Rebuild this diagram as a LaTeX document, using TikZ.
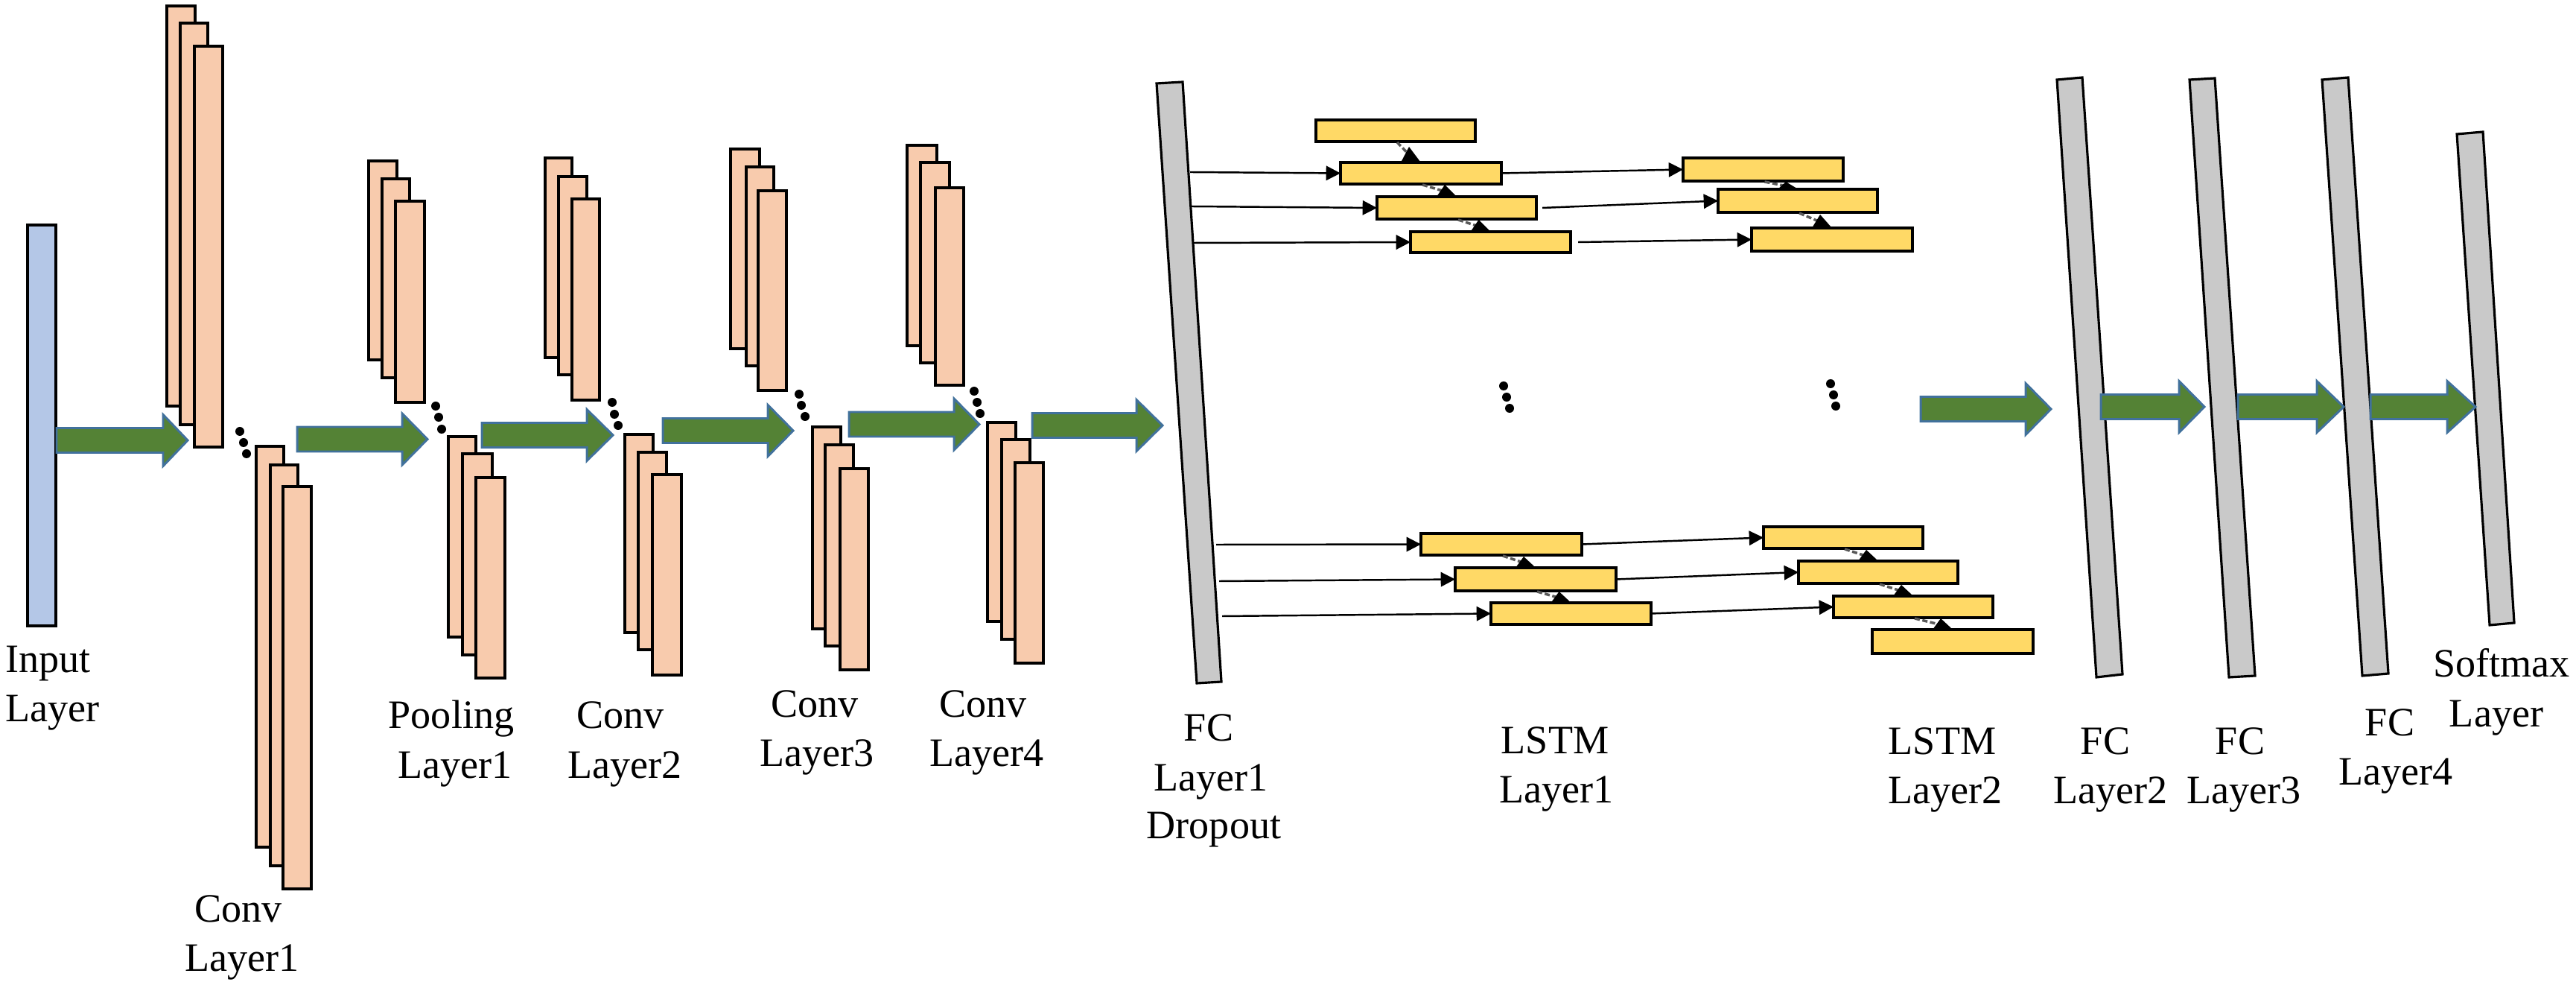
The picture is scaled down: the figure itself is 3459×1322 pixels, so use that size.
\documentclass[tikz,border=0pt]{standalone}
\usepackage{fontspec}
\setmainfont{Liberation Serif}
\newfontfamily\lblfont{Liberation Serif}
\usetikzlibrary{calc,arrows.meta}
\definecolor{convfill}{HTML}{F8CBAD}
\definecolor{inputfill}{HTML}{B4C7E7}
\definecolor{barfill}{HTML}{C9C9C9}
\definecolor{lstmfill}{HTML}{FFD966}
\definecolor{arrowgreen}{HTML}{548235}
\definecolor{arrowblue}{HTML}{41719C}
\newcommand\rectbox[6]{\node[#2, minimum width={(#5-#3)*0.28453pt}, minimum height={(#6-#4)*0.28453pt}] (#1) at ({(#3+#5)/2},{(#4+#6)/2}) {};}
\newcommand\garrow[4]{\draw[greenarrow] (#1,#4-16.5) -- (#2,#4-16.5) -- (#2,#4-34.5) -- (#3,#4) -- (#2,#4+34.5) -- (#2,#4+16.5) -- (#1,#4+16.5) -- cycle;}
\newcommand\lstmlink[3]{%
  \draw[linkdash] ($(#1.south)+(2,1)$) -- ($(#2.north)+(-14,-#3*0.4)$);
  \fill[black] ($(#2.north)+(-27,0)$) -- ($(#2.north)+(-1,-1)$) -- ($(#2.north)+(-16,-#3)$) -- cycle;}
\newcommand\dotcol[6]{\fill (#1,#2) circle[radius=6]; \fill (#3,#4) circle[radius=6]; \fill (#5,#6) circle[radius=6];}
\begin{document}
\begin{tikzpicture}[x=0.1mm,y=-0.1mm,
  convbox/.style={draw=black, fill=convfill, line width=1pt, inner sep=0pt, outer sep=0pt},
  inputbox/.style={draw=black, fill=inputfill, line width=1pt, inner sep=0pt, outer sep=0pt},
  lstmbox/.style={draw=black, fill=lstmfill, line width=0.9pt, inner sep=0pt, outer sep=0pt},
  fcbar/.style={draw=black, fill=barfill, line width=0.9pt, line join=miter},
  greenarrow/.style={fill=arrowgreen, draw=arrowblue, line width=0.85pt, line join=miter},
  thinarrow/.style={draw=black, line width=0.7pt, -{Triangle[length=5.5pt,width=5.5pt]}},
  linkdash/.style={draw=black!65, line width=1pt, dash pattern=on 2pt off 1pt},
  lbl/.style={font=\lblfont\fontsize{15.4}{18.8}\selectfont, inner sep=0pt, anchor=base}]
\useasboundingbox (0,0) rectangle (3459,1322);

% input layer
\rectbox{inp}{inputbox}{37}{302}{75}{840}

% conv layer 1
\rectbox{c1a1}{convbox}{224}{8}{262}{545}
\rectbox{c1a2}{convbox}{242}{31}{279}{570}
\rectbox{c1a3}{convbox}{261}{62}{299}{600}
\rectbox{c1b1}{convbox}{344}{599}{381}{1137}
\rectbox{c1b2}{convbox}{363}{624}{400}{1162}
\rectbox{c1b3}{convbox}{380}{653}{418}{1193}
% pooling layer 1
\rectbox{p1a1}{convbox}{495}{216}{533}{483}
\rectbox{p1a2}{convbox}{513}{240}{550}{507}
\rectbox{p1a3}{convbox}{531}{270}{570}{540}
\rectbox{p1b1}{convbox}{602}{586}{639}{855}
\rectbox{p1b2}{convbox}{621}{609}{661}{879}
\rectbox{p1b3}{convbox}{639}{641}{678}{910}
% conv layer 2
\rectbox{c2a1}{convbox}{732}{212}{768}{480}
\rectbox{c2a2}{convbox}{750}{237}{788}{503}
\rectbox{c2a3}{convbox}{768}{267}{805}{537}
\rectbox{c2b1}{convbox}{839}{583}{877}{849}
\rectbox{c2b2}{convbox}{857}{607}{895}{872}
\rectbox{c2b3}{convbox}{876}{637}{915}{906}
% conv layer 3
\rectbox{c3a1}{convbox}{981}{200}{1020}{468}
\rectbox{c3a2}{convbox}{1002}{224}{1039}{491}
\rectbox{c3a3}{convbox}{1018}{256}{1056}{524}
\rectbox{c3b1}{convbox}{1091}{573}{1129}{844}
\rectbox{c3b2}{convbox}{1108}{597}{1146}{867}
\rectbox{c3b3}{convbox}{1128}{629}{1166}{899}
% conv layer 4
\rectbox{c4a1}{convbox}{1218}{195}{1258}{464}
\rectbox{c4a2}{convbox}{1236}{218}{1275}{487}
\rectbox{c4a3}{convbox}{1256}{252}{1294}{517}
\rectbox{c4b1}{convbox}{1326}{567}{1364}{834}
\rectbox{c4b2}{convbox}{1345}{590}{1383}{858}
\rectbox{c4b3}{convbox}{1363}{621}{1401}{890}

% dots between feature-map stacks
\dotcol{322}{579}{327}{594}{331}{609}
\dotcol{585}{545}{589}{560}{593}{576}
\dotcol{822}{540}{825}{556}{830}{571}
\dotcol{1073}{529}{1076}{544}{1081}{559}
\dotcol{1308}{525}{1312}{540}{1316}{555}

% fully connected bars
\draw[fcbar] (1553,112) -- (1588,110) -- (1640,915) -- (1607,917) -- cycle;
\draw[fcbar] (2762,107) -- (2796,104) -- (2850,905) -- (2815,909) -- cycle;
\draw[fcbar] (2940,107) -- (2974,105) -- (3028,907) -- (2993,909) -- cycle;
\draw[fcbar] (3118,107) -- (3153,104) -- (3207,904) -- (3172,907) -- cycle;
\draw[fcbar] (3299,180) -- (3334,177) -- (3376,836) -- (3343,839) -- cycle;

% green arrows
\garrow{76}{219}{252}{591}
\garrow{399}{540}{574}{589.5}
\garrow{647}{788}{823}{584}
\garrow{890}{1031}{1065}{578}
\garrow{1140}{1281}{1315}{569.5}
\garrow{1386}{1526}{1561}{571}
\garrow{2579}{2720}{2754}{549}
\garrow{2821}{2926}{2960}{546}
\garrow{3005}{3111}{3147}{546}
\garrow{3183}{3286}{3324}{546}

% LSTM cells
\rectbox{A0}{lstmbox}{1767}{161}{1981}{190}
\rectbox{A1}{lstmbox}{1800}{218}{2016}{247}
\rectbox{A2}{lstmbox}{1849}{264}{2063}{294}
\rectbox{A3}{lstmbox}{1894}{311}{2109}{339}
\rectbox{B1}{lstmbox}{2260}{212}{2475}{243}
\rectbox{B2}{lstmbox}{2307}{254}{2521}{285}
\rectbox{B3}{lstmbox}{2352}{306}{2568}{337}
\rectbox{C1}{lstmbox}{1908}{716}{2124}{745}
\rectbox{C2}{lstmbox}{1954}{762}{2170}{793}
\rectbox{C3}{lstmbox}{2002}{809}{2217}{838}
\rectbox{D1}{lstmbox}{2368}{707}{2582}{736}
\rectbox{D2}{lstmbox}{2415}{753}{2629}{783}
\rectbox{D3}{lstmbox}{2462}{800}{2676}{829}
\rectbox{D4}{lstmbox}{2514}{845}{2730}{877}

% connection start points on FC layer 1
\coordinate (f1) at (1598,231);
\coordinate (f2) at (1599,277);
\coordinate (f3) at (1602,326);
\coordinate (f4) at (1633,731);
\coordinate (f5) at (1637,780);
\coordinate (f6) at (1641,827);

\draw[thinarrow] (f1) -- (A1.west);
\draw[thinarrow] (f2) -- (A2.west);
\draw[thinarrow] (f3) -- (A3.west);
\draw[thinarrow] (f4) -- (C1.west);
\draw[thinarrow] (f5) -- (C2.west);
\draw[thinarrow] (f6) -- (C3.west);
\draw[thinarrow] (A1.east) -- (B1.west);
\draw[thinarrow] ($(A2.east)+(8,0)$) -- (B2.west);
\draw[thinarrow] ($(A3.east)+(10,0)$) -- (B3.west);
\draw[thinarrow] (C1.east) -- (D1.west);
\draw[thinarrow] (C2.east) -- (D2.west);
\draw[thinarrow] (C3.east) -- (D3.west);

% recurrent links
\lstmlink{A0}{A1}{21}
\lstmlink{A1}{A2}{16}
\lstmlink{A2}{A3}{16}
\lstmlink{B1}{B2}{10}
\lstmlink{B2}{B3}{18}
\lstmlink{C1}{C2}{15}
\lstmlink{C2}{C3}{15}
\lstmlink{D1}{D2}{15}
\lstmlink{D2}{D3}{15}
\lstmlink{D3}{D4}{15}

% dots between LSTM groups
\dotcol{2019}{518}{2023}{533}{2027}{548}
\dotcol{2458}{515}{2462}{530}{2465}{545}

% labels
\node[lbl, anchor=base west] (t-in1) at (7,902) {Input};
\node[lbl, anchor=base west] (t-in2) at (7,968) {Layer};
\node[lbl] (t-c1a) at (320,1237) {Conv};
\node[lbl] (t-c1b) at (325,1303) {Layer1};
\node[lbl] (t-p1a) at (606,977) {Pooling};
\node[lbl] (t-p1b) at (611,1044) {Layer1};
\node[lbl] (t-c2a) at (833,977) {Conv};
\node[lbl] (t-c2b) at (839,1044) {Layer2};
\node[lbl] (t-c3a) at (1094,962) {Conv};
\node[lbl] (t-c3b) at (1097,1028) {Layer3};
\node[lbl] (t-c4a) at (1320,962) {Conv};
\node[lbl] (t-c4b) at (1325,1028) {Layer4};
\node[lbl] (t-f1a) at (1623,994) {FC};
\node[lbl] (t-f1b) at (1626,1061) {Layer1};
\node[lbl] (t-f1c) at (1630,1125) {Dropout};
\node[lbl] (t-l1a) at (2088,1011) {LSTM};
\node[lbl] (t-l1b) at (2090,1077) {Layer1};
\node[lbl] (t-l2a) at (2608,1012) {LSTM};
\node[lbl] (t-l2b) at (2612,1078) {Layer2};
\node[lbl] (t-f2a) at (2827,1012) {FC};
\node[lbl] (t-f2b) at (2834,1078) {Layer2};
\node[lbl] (t-f3a) at (3008,1012) {FC};
\node[lbl] (t-f3b) at (3013,1078) {Layer3};
\node[lbl] (t-f4a) at (3209,987) {FC};
\node[lbl] (t-f4b) at (3217,1053) {Layer4};
\node[lbl] (t-sma) at (3359,908) {Softmax};
\node[lbl] (t-smb) at (3352,975) {Layer};
\end{tikzpicture}
\end{document}
